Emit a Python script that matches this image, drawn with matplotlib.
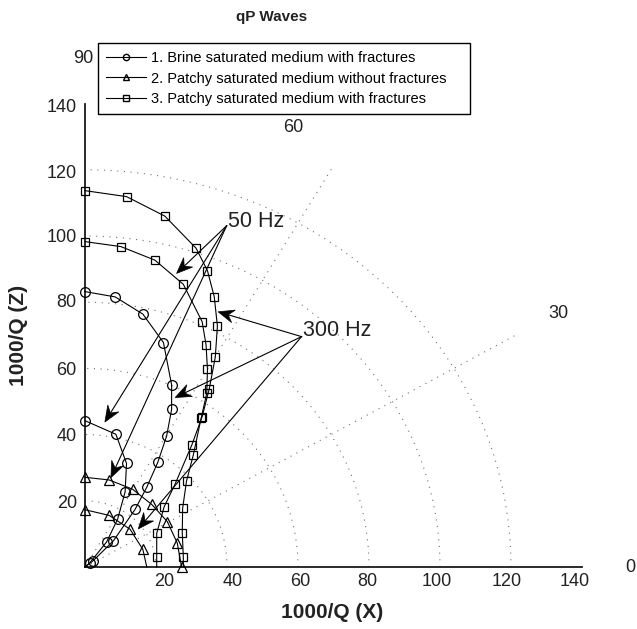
import numpy as np
import matplotlib
matplotlib.use('Agg')
import matplotlib.pyplot as plt
from matplotlib.patches import Polygon

plt.rcParams['font.family'] = ['Liberation Sans', 'DejaVu Sans']

# ---------------- data ----------------
# 1. Brine saturated medium with fractures
c1_x = [0.0, 8.5, 16.3, 22.1, 24.4, 24.4, 23.0, 20.5, 17.4, 14.1, 8.0, 2.3]   # 300 Hz
c1_y = [83.2, 81.6, 76.4, 67.8, 55.0, 47.6, 39.6, 31.6, 24.1, 17.4, 7.9, 1.9]
c1_end = (0.0, 0.0)
c2_x = [0.0, 8.7, 11.7, 11.3, 9.2, 6.1, 1.4]                                  # 50 Hz
c2_y = [44.2, 40.1, 31.3, 22.7, 14.5, 7.6, 1.3]
c2_end = (0.0, 0.0)
# 2. Patchy saturated medium without fractures
t1_x = [0.0, 6.8, 13.4, 18.8, 23.2, 26.0, 27.2]                               # 50 Hz
t1_y = [27.1, 26.3, 23.5, 18.9, 13.7, 7.2, 0.0]
t2_x = [0.0, 6.8, 12.7, 16.3]                                                 # 300 Hz
t2_y = [17.3, 15.6, 11.4, 5.3]
t2_end = (17.4, 0.0)
# 3. Patchy saturated medium with fractures
s1_x = [0.0, 11.7, 22.5, 31.3, 34.5, 36.4, 37.3, 36.7, 35.0, 33.0, 30.1, 25.4, 22.3, 20.2, 20.2]  # 300 Hz
s1_y = [113.7, 111.9, 106.0, 96.3, 89.5, 81.7, 72.8, 63.4, 53.8, 45.4, 36.9, 25.1, 18.2, 10.2, 3.1]
s1_end = (20.2, 0.0)
s2_x = [0.0, 10.1, 19.7, 27.7, 33.0, 34.1, 34.5, 34.3, 32.7, 30.5, 28.6, 27.5, 27.4, 27.7]      # 50 Hz
s2_y = [98.3, 96.8, 92.7, 85.4, 74.1, 67.1, 59.7, 52.5, 44.9, 33.8, 26.0, 17.7, 10.4, 2.9]
s2_end = (27.7, 0.0)

legend_labels = ['1. Brine saturated medium with fractures',
                 '2. Patchy saturated medium without fractures',
                 '3. Patchy saturated medium with fractures']
ring_values = [20, 40, 60, 80, 100, 120]
ring_labels = ['20', '40', '60', '80', '100', '120', '140']
angle_labels = ['0', '30', '60', '90']
spoke_angles = [30, 60]
title = 'qP Waves'
xlabel = '1000/Q (X)'
ylabel = '1000/Q (Z)'

# ---------------- figure ----------------
fig = plt.figure(figsize=(6.37, 6.29), dpi=100)
ax = fig.add_axes([85/637, 62/629, 497/637, 463.4/629])
ax.set_xlim(0, 140)
ax.set_ylim(0, 140)
for s in ['top', 'right']:
    ax.spines[s].set_visible(False)
for s in ['bottom', 'left']:
    ax.spines[s].set_linewidth(1.3)
    ax.spines[s].set_color('#1a1a1a')
ax.set_xticks([])
ax.set_yticks([])

grid_kw = dict(color='0.45', lw=0.8, ls=(0, (1, 5)), zorder=1)
t = np.linspace(0, np.pi/2, 300)
for r in ring_values:
    ax.plot(r*np.cos(t), r*np.sin(t), **grid_kw)
for a in spoke_angles:
    ar = np.deg2rad(a)
    ax.plot([0, 140*np.cos(ar)], [0, 140*np.sin(ar)], **grid_kw)

line_kw = dict(color='black', lw=0.8, zorder=3, clip_on=False)

def curve(xs, ys, end, marker, ms):
    lx = list(xs) + ([end[0]] if end is not None else [])
    ly = list(ys) + ([end[1]] if end is not None else [])
    ax.plot(lx, ly, **line_kw)
    ax.plot(xs, ys, marker=marker, ms=ms, ls='none', mfc='none', mec='black',
            mew=0.9, zorder=4, clip_on=False)

curve(c1_x, c1_y, c1_end, 'o', 7)
curve(c2_x, c2_y, c2_end, 'o', 7)
curve(t1_x, t1_y, None, '^', 7)
curve(t2_x, t2_y, t2_end, '^', 7)
curve(s1_x, s1_y, s1_end, 's', 6)
curve(s2_x, s2_y, s2_end, 's', 6)

# legend handles
h1, = ax.plot([], [], color='black', lw=0.8, marker='o', mfc='none', mec='black', ms=6)
h2, = ax.plot([], [], color='black', lw=0.8, marker='^', mfc='none', mec='black', ms=6)
h3, = ax.plot([], [], color='black', lw=0.8, marker='s', mfc='none', mec='black', ms=5)
leg = ax.legend([h1, h2, h3], legend_labels, loc='upper left',
                bbox_to_anchor=(98/637, 1-42.7/629, 372.5/637, 0.0), mode='expand',
                bbox_transform=fig.transFigure, borderaxespad=0, fancybox=False,
                edgecolor='black', framealpha=1, fontsize=10.5, handlelength=2.75,
                handletextpad=0.35, borderpad=0.55, labelspacing=0.47, markerscale=0.75)
leg.get_frame().set_linewidth(1.0)

# ring labels
xpos = [22.3, 41.7, 60.6, 79.4, 99.2, 118.9, 138.0]
for v, lab in zip(xpos, ring_labels):
    ax.text(v, -4.5, lab, ha='center', va='center', fontsize=13, color='#222222', clip_on=False)
ypos = [19.3, 39.3, 59.5, 79.8, 99.4, 119.0, 138.8]
for v, lab in zip(ypos, ring_labels):
    ax.text(-2.3, v, lab, ha='right', va='center', fontsize=13, color='#222222', clip_on=False)

# angle labels
apos = [(153.5, -0.3), (133.4, 76.5), (58.7, 132.8), (-0.4, 153.6)]
for (px, py), lab in zip(apos, angle_labels):
    ax.text(px, py, lab, ha='center', va='center', fontsize=13, color='#222222', clip_on=False)

# annotations (arrows with swept-back heads)
inv = ax.transData.inverted()

def arrow(origin, tip, L=16.0, W=6.5, notch=10.5):
    p0 = ax.transData.transform(origin)
    p1 = ax.transData.transform(tip)
    u = (p1 - p0) / np.hypot(*(p1 - p0))
    n = np.array([-u[1], u[0]])
    back = p1 - notch*u
    ax.plot(*zip(origin, inv.transform(back)), color='black', lw=0.8, zorder=5, clip_on=False)
    pts = np.array([p1, p1 - L*u + W*n, back, p1 - L*u - W*n])
    ax.add_patch(Polygon(inv.transform(pts), closed=True, fc='black', ec='black',
                         lw=0.5, zorder=6, clip_on=False))

o50 = (39.9, 103.1)
for tip in [(25.8, 88.7), (5.6, 43.8), (7.3, 27.0)]:
    arrow(o50, tip)
o300 = (61.0, 69.6)
for tip in [(37.5, 77.1), (25.4, 51.2), (15.0, 11.5)]:
    arrow(o300, tip)
ax.text(40.3, 104.5, '50 Hz', ha='left', va='center', fontsize=15.5, color='#222222')
ax.text(61.4, 71.6, '300 Hz', ha='left', va='center', fontsize=15.5, color='#222222')

fig.text(271.7/637, 1-16.7/629, title, ha='center', va='center', fontsize=11, fontweight='bold', color='#222222')
fig.text(331.7/637, 1-613/629, xlabel, ha='center', va='center', fontsize=15, fontweight='bold', color='#222222')
fig.text(19/637, 1-335/629, ylabel, ha='center', va='center', rotation=90, fontsize=15, fontweight='bold', color='#222222')

fig.savefig('out.png', dpi=100)
